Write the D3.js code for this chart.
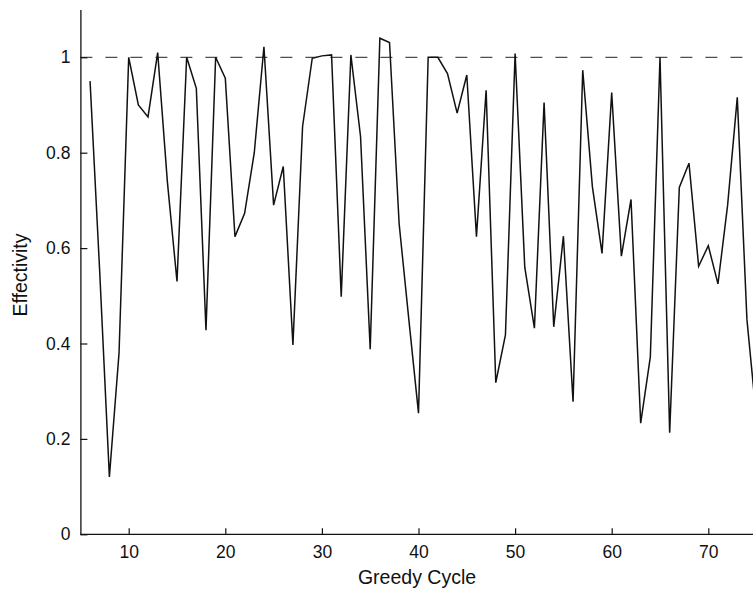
<!DOCTYPE html>
<html>
<head>
<meta charset="utf-8">
<script src="https://cdn.jsdelivr.net/npm/d3@7"></script>
<style>
  html, body { margin: 0; padding: 0; background: #fff; }
  svg { display: block; }
  text { font-family: "Liberation Sans", Arial, sans-serif; fill: #111; }
</style>
</head>
<body>
<svg id="chart" width="753" height="596"></svg>
<script>
// ---- data ----
const cycles = [6,7,8,9,10,11,12,13,14,15,16,17,18,19,20,21,22,23,24,25,26,27,28,29,30,
  31,32,33,34,35,36,37,38,39,40,41,42,43,44,45,46,47,48,49,50,51,52,53,54,55,
  56,57,58,59,60,61,62,63,64,65,66,67,68,69,70,71,72,73,74,75];
const effectivity = [0.95,0.55,0.12,0.38,1.00,0.90,0.875,1.01,0.74,0.53,1.00,0.935,0.428,1.00,0.956,
  0.624,0.673,0.80,1.022,0.69,0.771,0.397,0.855,0.998,1.003,1.005,0.498,1.005,0.834,0.388,
  1.04,1.031,0.65,0.45,0.254,1.00,1.00,0.966,0.883,0.963,0.624,0.931,0.318,0.418,1.008,
  0.56,0.432,0.905,0.435,0.625,0.278,0.973,0.729,0.589,0.926,0.583,0.702,0.233,0.372,1.00,
  0.213,0.727,0.778,0.562,0.605,0.525,0.69,0.916,0.45,0.24];
const xTicks = [10,20,30,40,50,60,70];
const yTicks = [0,0.2,0.4,0.6,0.8,1];
const referenceLevel = 1;
const xLabel = "Greedy Cycle";
const yLabel = "Effectivity";

// ---- layout ----
const svg = d3.select("#chart");
const x = d3.scaleLinear().domain([5, 75]).range([80.4, 756.6]);
const y = d3.scaleLinear().domain([0, 1.1]).range([534.3, 9.6]);

// reference dashed line
svg.append("line")
  .attr("x1", x(5)).attr("x2", 753)
  .attr("y1", y(referenceLevel)).attr("y2", y(referenceLevel))
  .attr("stroke", "#222").attr("stroke-width", 1)
  .attr("stroke-dasharray", "12,13");

// axes (ticks inside)
const xAxis = d3.axisBottom(x).tickValues(xTicks).tickSizeInner(-6).tickSizeOuter(0).tickPadding(11)
  .tickFormat(d3.format("d"));
const gx = svg.append("g").attr("transform", `translate(0,${y(0)})`).call(xAxis);
const yAxis = d3.axisLeft(y).tickValues(yTicks).tickSizeInner(-7).tickSizeOuter(0).tickPadding(10)
  .tickFormat(d => d === 0 ? "0" : d === 1 ? "1" : d3.format(".1f")(d));
const gy = svg.append("g").attr("transform", `translate(${x(5)},0)`).call(yAxis);

[gx, gy].forEach(g => {
  g.select(".domain").attr("stroke", "#111").attr("stroke-width", 1.3);
  g.selectAll(".tick line").attr("stroke", "#111").attr("stroke-width", 1.2);
  g.selectAll(".tick text").attr("font-size", 17.5).attr("font-family", "Liberation Sans, Arial, sans-serif").attr("fill", "#111");
});
gx.select(".domain").attr("d", `M${x(5)},0H753`);

// axis labels
svg.append("text").attr("x", 417).attr("y", 584)
  .attr("text-anchor", "middle").attr("font-size", 19.5).text(xLabel);
svg.append("text")
  .attr("transform", `translate(27,275) rotate(-90)`)
  .attr("text-anchor", "middle").attr("font-size", 19.5).text(yLabel);

// data line
const line = d3.line().x((d, i) => x(cycles[i])).y(d => y(d));
svg.append("path").datum(effectivity)
  .attr("d", line)
  .attr("fill", "none").attr("stroke", "#111").attr("stroke-width", 1.5)
  .attr("stroke-linejoin", "miter");
</script>
</body>
</html>
